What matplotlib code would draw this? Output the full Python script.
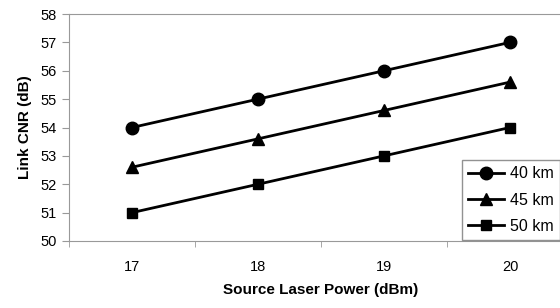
import matplotlib.pyplot as plt

power = [17, 18, 19, 20]          # dBm
cnr_40 = [54.0, 55.0, 56.0, 57.0]  # dB
cnr_45 = [52.6, 53.6, 54.6, 55.6]
cnr_50 = [51.0, 52.0, 53.0, 54.0]

plt.rcParams['font.family'] = ['Liberation Sans', 'DejaVu Sans']

fig = plt.figure(figsize=(5.6, 3.08), dpi=100)
ax = fig.add_axes([69/560, 67/308, 504/560, 227/308])

ax.plot(power, cnr_40, color="black", lw=2, marker="o", ms=9, label="40 km")
ax.plot(power, cnr_45, color="black", lw=2, marker="^", ms=8.5, label="45 km")
ax.plot(power, cnr_50, color="black", lw=2, marker="s", ms=7.5, label="50 km")

ax.set_xlim(16.5, 20.5)
ax.set_ylim(50, 58)
ax.set_yticks(range(50, 59))
ax.set_xticks(power)
ax.set_xticks([16.5, 17.5, 18.5, 19.5], minor=True)
ax.tick_params(axis="x", which="major", length=0, pad=14, labelsize=10.5)
ax.tick_params(axis="x", which="minor", length=4, color="#999999")
ax.tick_params(axis="y", length=5, color="#999999", labelsize=10.5, pad=4)

for side in ["left", "bottom", "top"]:
    ax.spines[side].set_color("#999999")
ax.spines["right"].set_visible(False)

ax.set_xlabel("Source Laser Power (dBm)", fontsize=11, fontweight="bold", labelpad=6)
ax.set_ylabel("Link CNR (dB)", fontsize=11, fontweight="bold", labelpad=6)

leg = ax.legend(loc="upper left", fontsize=11.5, frameon=True, fancybox=False,
                edgecolor="#777777", handlelength=2.2, borderpad=0.4,
                labelspacing=0.7, handletextpad=0.4)
leg.set_bbox_to_anchor((454/560, (308 - 152)/308), transform=fig.transFigure)

fig.savefig("out.png", dpi=100)
